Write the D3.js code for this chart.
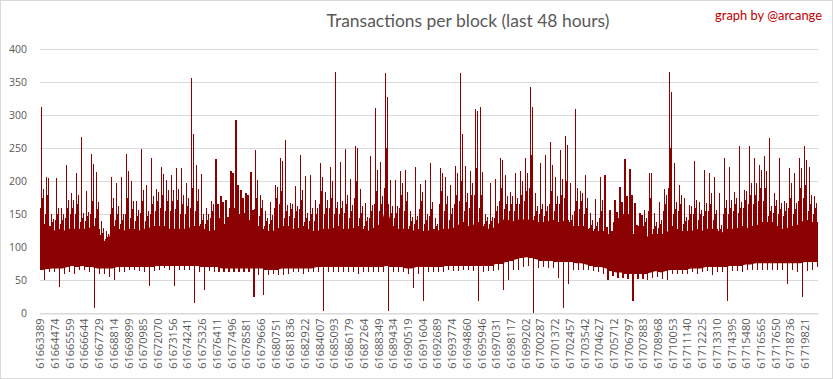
<!DOCTYPE html>
<html><head><meta charset="utf-8">
<script src="https://cdn.jsdelivr.net/npm/d3@7/dist/d3.min.js"></script>
<style>body{margin:0;background:#fff;} svg{display:block;}</style>
</head><body><svg id="c" width="833" height="379"></svg>
<script>
const startBlock = 61663389;
const binSize = 368;
// per ~368-block bin: tallest spike, 2nd/3rd/4th spike levels, solid-band top/bottom, lowest dip
const maxV = [312,207,150,205,160,224,182,212,267,185,241,214,140,125,207,198,207,241,200,170,
249,194,236,189,221,202,210,220,220,197,356,225,211,160,170,234,177,171,216,293,
187,182,214,247,180,155,168,194,235,263,167,193,240,208,210,172,227,184,222,366,
230,249,203,253,189,167,238,311,230,364,202,202,216,217,155,222,196,202,227,145,
220,206,194,223,364,223,216,310,312,150,198,203,235,210,184,212,215,235,343,182,
228,240,260,207,247,268,197,309,185,210,152,173,207,209,157,172,192,234,219,167,
152,157,212,152,168,189,366,227,195,174,164,231,168,217,212,207,182,235,222,184,
254,187,253,236,225,238,265,182,235,170,220,212,235,254,222,177];
const secV = [189,205,143,159,150,172,172,180,152,153,226,169,130,120,174,163,150,216,170,157,
187,155,177,184,211,187,187,189,179,175,271,189,150,150,166,166,169,146,212,195,
174,179,157,202,172,145,149,192,231,164,165,162,187,152,159,159,207,172,201,169,
170,179,164,250,162,146,164,217,177,328,162,162,197,184,146,147,184,150,168,136,
213,177,159,212,271,182,197,307,214,146,146,162,232,177,177,175,200,212,313,162,
165,162,225,177,204,255,149,190,182,174,141,139,172,131,124,154,169,177,179,134,
149,144,212,139,141,179,336,168,180,146,162,172,157,167,182,157,134,172,172,175,
169,185,197,197,217,215,162,172,167,167,197,167,220,233,179,167];
const thirdV = [175,180,138,150,142,160,160,165,145,148,170,158,122,115,160,150,142,175,158,148,
170,148,165,170,180,170,170,172,165,162,190,170,142,142,155,155,158,140,180,175,
165,165,150,175,160,140,142,175,185,155,158,155,172,145,150,150,185,160,175,160,
160,165,155,200,152,140,155,185,165,250,152,152,180,170,140,142,170,142,158,132,
185,165,150,180,200,168,180,220,180,140,140,155,190,165,165,165,180,185,240,155,
158,155,185,165,180,200,142,170,170,160,134,132,155,125,118,145,155,160,160,125,
140,138,175,132,135,165,250,158,165,140,150,160,150,155,165,150,128,160,160,165,
160,172,180,180,190,190,155,162,158,155,175,158,190,195,165,160];
const fourthV = [160,150,132,142,135,145,150,150,138,140,150,145,118,112,150,142,135,150,145,140,
152,140,150,155,160,155,155,158,150,150,160,155,135,135,145,145,145,135,160,160,
150,152,142,158,148,133,135,160,165,145,148,145,158,138,140,140,165,150,160,150,
150,152,145,175,145,133,145,165,155,190,145,145,160,155,133,135,158,135,148,128,
165,155,142,165,170,155,160,180,160,135,135,145,170,158,155,155,165,170,190,148,
150,148,165,155,165,175,138,155,158,150,130,128,145,122,116,138,145,150,150,120,
132,132,155,128,130,155,190,150,155,135,142,150,142,148,155,142,124,150,150,155,
152,160,165,165,170,170,148,152,150,148,160,150,170,175,155,150];
const topV = [136,132,124,128,124,128,128,128,128,128,132,128,110,106,132,128,124,128,128,124,
128,128,132,132,132,128,128,128,128,128,132,132,128,124,124,128,124,128,132,132,
132,128,128,132,128,124,124,128,132,132,128,128,132,128,124,124,128,128,128,132,
128,128,128,132,128,124,128,132,138,165,132,128,128,128,124,128,124,124,128,124,
128,128,128,132,138,132,132,138,132,128,128,132,142,142,138,142,142,142,142,138,
138,138,142,138,138,142,132,132,132,128,124,124,124,120,115,115,120,120,120,115,
110,115,120,120,120,120,132,128,124,124,124,128,124,128,128,128,120,128,128,128,
132,128,132,132,138,138,138,132,128,128,132,132,138,142,138,138];
const botV = [66,67,68,68,68,70,72,70,72,70,70,68,68,68,68,70,70,70,70,70,
70,70,70,72,72,72,72,72,72,72,72,72,70,70,70,70,68,68,68,68,
68,68,68,68,68,66,66,66,68,68,68,68,68,68,68,70,70,70,70,70,
70,70,70,70,70,70,70,70,70,72,70,70,70,68,68,70,70,70,70,70,
70,72,72,72,72,72,72,72,72,72,72,75,75,78,80,82,84,85,84,82,
80,80,80,78,78,78,78,76,76,74,72,70,70,68,64,62,62,60,60,60,
60,60,62,64,62,64,66,66,66,66,68,68,68,70,70,70,70,70,72,72,
72,74,74,76,76,76,76,76,76,76,76,76,76,78,78,78];
const minV = [51,63,63,40,60,62,60,65,65,62,8,60,60,55,51,63,62,65,65,64,
62,42,64,66,68,65,42,66,65,65,15,63,35,64,63,62,62,62,62,63,
62,62,25,58,27,58,60,58,58,60,62,62,60,62,62,62,3,63,62,62,
63,62,62,60,62,62,62,62,62,3,62,62,62,60,39,60,18,62,62,62,
62,65,64,64,65,65,64,18,62,64,64,65,36,51,66,66,70,72,1,68,
70,68,68,53,8,45,66,66,66,66,64,62,60,51,56,54,54,52,18,52,
52,51,54,55,52,51,60,60,60,60,62,60,62,64,58,62,62,18,64,64,
62,65,65,66,66,66,66,66,66,45,66,62,24,64,66,70];
const tickLabels = [61663389,61664474,61665559,61666644,61667729,61668814,61669899,61670985,61672070,61673156,
61674241,61675326,61676411,61677496,61678581,61679666,61680751,61681836,61682922,61684007,
61685093,61686179,61687264,61688349,61689434,61690519,61691604,61692689,61693774,61694860,
61695946,61697031,61698117,61699202,61700287,61701372,61702457,61703542,61704627,61705712,
61706797,61707883,61708968,61710053,61711140,61712225,61713310,61714395,61715480,61716565,
61717650,61718736,61719821];
const yTicks = [0,50,100,150,200,250,300,350,400];

const W = 833, H = 379, RED = '#8B0000', GREY = '#595959';
const svg = d3.select('#c');
svg.append('rect').attr('x',0.5).attr('y',0.5).attr('width',W-1).attr('height',H-1)
  .attr('fill','#fff').attr('stroke','#d9d9d9');

const nBins = maxV.length;
const x = d3.scaleLinear().domain([startBlock, startBlock + binSize*nBins]).range([40, 818]);
const y = d3.scaleLinear().domain([0, 400]).range([313.3, 49.3]);

svg.append('g').selectAll('line').data(yTicks).join('line')
  .attr('x1', 40).attr('x2', 818)
  .attr('y1', d => Math.round(y(d)) + 0.5).attr('y2', d => Math.round(y(d)) + 0.5)
  .attr('stroke', '#d9d9d9').attr('stroke-width', 1);

const yAxis = d3.axisLeft(y).tickValues(yTicks).tickSize(0).tickPadding(13);
const gy = svg.append('g').attr('transform', 'translate(40,0)').call(yAxis);
gy.select('.domain').remove();
gy.selectAll('text').attr('fill', GREY).style('font-family', '"Open Sans", sans-serif').style('font-size', '10.5px');

const xAxis = d3.axisBottom(x).tickValues(tickLabels).tickSize(0).tickFormat(d3.format('d'));
const gx = svg.append('g').attr('transform', 'translate(0,313.5)').call(xAxis);
gx.select('.domain').attr('stroke', '#d9d9d9');
gx.selectAll('text')
  .attr('transform', 'rotate(-90)')
  .attr('x', -5).attr('y', 0).attr('dy', '0.35em')
  .style('text-anchor', 'end')
  .attr('fill', GREY).style('font-family', '"Open Sans", sans-serif').style('font-size', '11px');

const bins = d3.range(nBins).map(i => ({
  b: startBlock + i*binSize, max: maxV[i], sec: secV[i], third: thirdV[i], fourth: fourthV[i],
  top: topV[i], bot: botV[i], min: minV[i]
}));
const plot = svg.append('g');
plot.append('path').datum(bins)
  .attr('d', d3.area()
    .x((d, i) => i === 0 ? x(d.b) : (i === nBins-1 ? x(d.b + binSize) : x(d.b + binSize/2)))
    .y0(d => y(d.bot)).y1(d => y(d.top)))
  .attr('fill', RED);

const cols = [
  {key: 'fourth', off: 0.1}, {key: 'max', off: 0.3}, {key: 'third', off: 0.5}, {key: 'sec', off: 0.7}
];
cols.forEach(c => {
  plot.selectAll('line.c-' + c.key).data(bins).join('line').attr('class', 'c-' + c.key)
    .attr('x1', d => x(d.b + c.off*binSize)).attr('x2', d => x(d.b + c.off*binSize))
    .attr('y1', d => y(d.bot)).attr('y2', d => y(d[c.key]))
    .attr('stroke', RED).attr('stroke-width', 1.1).attr('shape-rendering', 'crispEdges');
});
plot.selectAll('line.mn').data(bins).join('line').attr('class','mn')
  .attr('x1', d => x(d.b + 0.9*binSize)).attr('x2', d => x(d.b + 0.9*binSize))
  .attr('y1', d => y(d.top)).attr('y2', d => y(d.min))
  .attr('stroke', RED).attr('stroke-width', 1.1).attr('shape-rendering', 'crispEdges');

function fitText(sel, target) {
  const w = sel.node().getComputedTextLength();
  const fs = parseFloat(sel.style('font-size'));
  sel.style('font-size', (fs * target / w) + 'px');
}
const title = svg.append('text').attr('x', 468).attr('y', 27).attr('text-anchor', 'middle')
  .attr('fill', GREY).style('font-family', 'Lato, sans-serif').style('font-size', '17px')
  .text('Transactions per block (last 48 hours)');
fitText(title, 283);
const credit = svg.append('text').attr('x', 822).attr('y', 20).attr('text-anchor', 'end')
  .attr('fill', '#C00000').style('font-family', 'Lato, sans-serif').style('font-size', '12px')
  .text('graph by @arcange');
fitText(credit, 107);
</script></body></html>
